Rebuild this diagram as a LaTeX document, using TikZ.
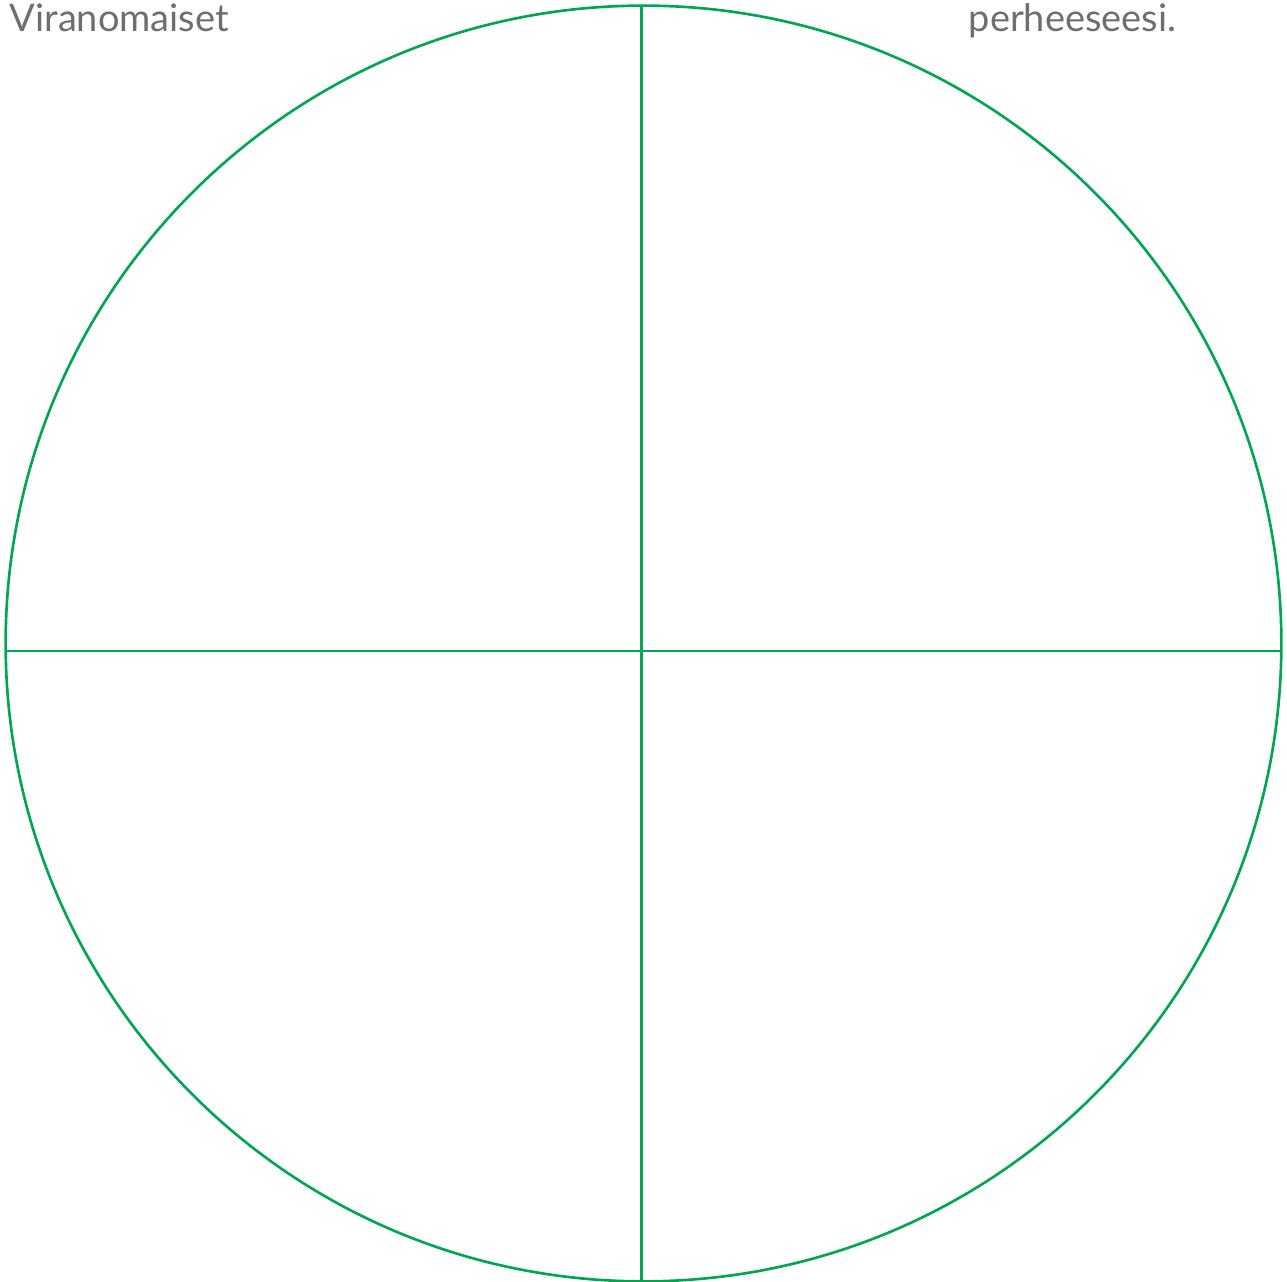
\documentclass[tikz,border=0pt]{standalone}
\usepackage{fontspec}
\setmainfont{Lato}
\definecolor{ringgreen}{RGB}{0,166,81}
\definecolor{labelgray}{RGB}{110,110,110}
\tikzset{
    ringline/.style={ringgreen, line width=0.75pt},
    cornerlabel/.style={anchor=base west, inner sep=0pt, text=labelgray, font=\fontsize{10.8}{12}\selectfont}
}
\begin{document}
\begin{tikzpicture}[x=0.01cm,y=-0.01cm]
    % Fix the page size
    \useasboundingbox (0,0) rectangle (1287,1282);
    
    % Draw the circle
    \draw[ringline] (643.5,643.5) circle[radius=6.375cm];
    
    % Draw the cross lines
    \draw[ringline] (641.5,6) -- (641.5,1281);
    \draw[ringline] (6,651) -- (1281,651);
    
    % Corner labels
    \node[cornerlabel] (viranomaiset) at (9,32) {Viranomaiset};
    \node[cornerlabel] (perheeseesi) at (968,32) {perheeseesi.};
    
\end{tikzpicture}
\end{document}
